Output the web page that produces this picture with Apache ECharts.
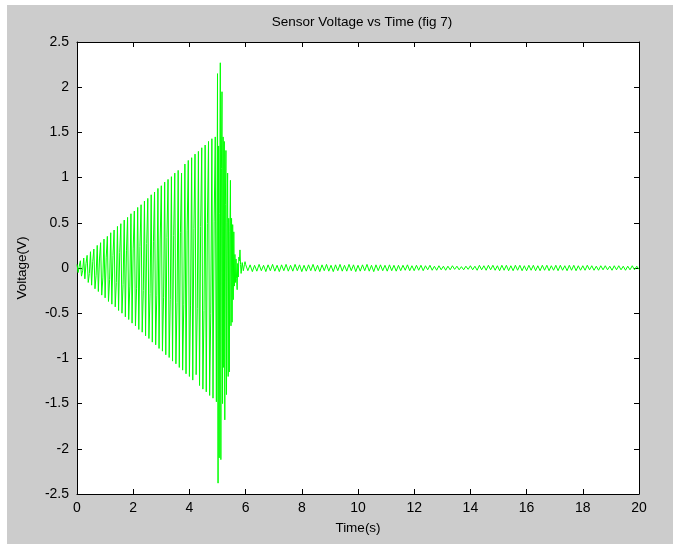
<!DOCTYPE html>
<html>
<head>
<meta charset="utf-8">
<script src="https://cdn.jsdelivr.net/npm/echarts@6/dist/echarts.min.js"></script>
<style>
  html, body { margin: 0; padding: 0; background: #ffffff; }
  #chart { position: absolute; left: 7px; top: 5px; width: 666px; height: 539px; background: #cccccc; }
</style>
</head>
<body>
<div id="chart"></div>
<script>
// ---- Data ----
const titleText = 'Sensor Voltage vs Time (fig 7)';
const xAxisName = 'Time(s)';
const yAxisName = 'Voltage(V)';
const xTicks = [0, 2, 4, 6, 8, 10, 12, 14, 16, 18, 20];
const yTicks = [-2.5, -2, -1.5, -1, -0.5, 0, 0.5, 1, 1.5, 2, 2.5];

// Growing oscillation, 0 s .. 4.96 s (sample spacing 0.04 s)
const rampStart = 0;
const rampStep = 0.04;
const rampVoltage = [
  0.04, -0.05, 0.02, 0.08, -0.09, -0.03, 0.11, -0.12, 0.05, 0.14,
  -0.16, -0.06, 0.18, -0.19, 0.07, 0.21, -0.23, -0.08, 0.25, -0.26,
  0.10, 0.28, -0.30, -0.11, 0.32, -0.33, 0.12, 0.35, -0.37, -0.13,
  0.39, -0.40, 0.14, 0.42, -0.43, -0.16, 0.46, -0.47, 0.17, 0.49,
  -0.50, -0.18, 0.53, -0.54, 0.19, 0.56, -0.57, -0.20, 0.60, -0.61,
  0.22, 0.63, -0.64, -0.23, 0.67, -0.68, 0.24, 0.70, -0.71, -0.25,
  0.74, -0.75, 0.27, 0.77, -0.78, -0.28, 0.81, -0.82, 0.29, 0.84,
  -0.85, -0.30, 0.88, -0.89, 0.31, 0.91, -0.92, -0.33, 0.95, -0.96,
  0.34, 0.98, -0.99, -0.35, 1.01, -1.03, 0.36, 1.05, -1.06, -0.38,
  1.08, -1.10, 0.39, 1.05, -1.13, -0.40, 1.15, -1.17, 0.41, 1.19,
  -1.20, -0.42, 1.22, -1.24, 0.44, 1.26, -1.18, -0.45, 1.29, -1.30,
  0.46, 1.33, -1.34, -0.47, 1.36, -1.37, 0.49, 1.40, -1.41, -0.50,
  1.43, -1.44, 0.51, 1.45, -1.48
];

// Impact burst, 5.00 s .. 5.98 s (sample spacing 0.02 s)
const impactStart = 5.0;
const impactStep = 0.02;
const impactVoltage = [
  2.15, -2.38, 1.35, -2.10, 0.60, 2.27, -2.12, 1.10, 1.95, -1.50,
  1.45, -1.10, 1.40, -1.68, 0.70, 1.30, -1.40, 0.50, 1.05, -1.20,
  0.55, -1.15, 0.40, 0.97, -0.64, 0.55, -0.60, 0.48, -0.35, 0.40,
  -0.20, 0.15, -0.16, 0.10, -0.12, -0.24, 0.05, -0.10, 0.12, 0.08,
  0.20, 0.04, -0.06, -0.08, 0.06, 0.08, -0.03, -0.05, 0.04, 0.07
];

// Residual noise, 6.00 s .. 20.00 s (sample spacing 0.08 s)
const tailStart = 6.0;
const tailStep = 0.08;
const tailVoltage = [
  0.04, -0.03, 0.035, -0.04, 0.03, -0.035, 0.04, -0.03, 0.03, -0.04,
  0.035, -0.03, 0.04, -0.035, 0.03, -0.04, 0.035, -0.03, 0.04, -0.035,
  0.03, -0.035, 0.04, -0.03, 0.035, -0.04, 0.03, -0.035, 0.035, -0.03,
  0.04, -0.035, 0.03, -0.04, 0.035, -0.03, 0.04, -0.035, 0.03, -0.04,
  0.035, -0.03, 0.04, -0.035, 0.03, -0.035, 0.04, -0.03, 0.035, -0.04,
  0.03, -0.035, 0.035, -0.03, 0.04, -0.035, 0.03, -0.04, 0.035, -0.03,
  0.035, -0.03, 0.03, -0.035, 0.035, -0.03, 0.03, -0.035, 0.03, -0.03,
  0.03, -0.025, 0.035, -0.03, 0.025, -0.03, 0.03, -0.025, 0.03, -0.03,
  0.025, -0.02, 0.03, -0.025, 0.02, -0.025, 0.025, -0.02, 0.02, -0.025,
  0.02, -0.02, 0.025, -0.015, 0.02, -0.02, 0.015, -0.02, 0.02, -0.015,
  0.025, -0.02, 0.02, -0.025, 0.03, -0.02, 0.025, -0.025, 0.03, -0.02,
  0.03, -0.025, 0.025, -0.03, 0.03, -0.025, 0.03, -0.03, 0.025, -0.03,
  0.03, -0.025, 0.03, -0.03, 0.025, -0.03, 0.03, -0.025, 0.03, -0.03,
  0.025, -0.03, 0.03, -0.025, 0.03, -0.03, 0.025, -0.025, 0.03, -0.03,
  0.03, -0.025, 0.025, -0.03, 0.03, -0.025, 0.03, -0.03, 0.025, -0.025,
  0.025, -0.025, 0.03, -0.02, 0.025, -0.025, 0.02, -0.025, 0.025, -0.02,
  0.025, -0.02, 0.02, -0.025, 0.025, -0.02, 0.025, -0.02, 0.02, -0.025,
  0.02, -0.02, 0.025, -0.02, 0.02, -0.015
];

// ---- Build series points (time of each sample from its segment's sample grid) ----
function segment(start, step, values) {
  return values.map((v, i) => [+(start + i * step).toFixed(4), v]);
}
const signal = []
  .concat(segment(rampStart, rampStep, rampVoltage))
  .concat(segment(impactStart, impactStep, impactVoltage))
  .concat(segment(tailStart, tailStep, tailVoltage));

// ---- Chart ----
const FONT = '"Liberation Sans", Arial, Helvetica, sans-serif';
const chart = echarts.init(document.getElementById('chart'), null, { renderer: 'canvas' });

const axisLine = { show: true, onZero: false, lineStyle: { color: '#000000', width: 1 } };
const axisTick = { show: true, inside: true, length: 5, lineStyle: { color: '#000000', width: 1 } };
const tickStyle = { color: '#000000', fontSize: 14, fontFamily: FONT };
const nameStyle = { color: '#000000', fontSize: 13.5, fontFamily: FONT };

const xMin = xTicks[0], xMax = xTicks[xTicks.length - 1], xInt = xTicks[1] - xTicks[0];
const yMin = yTicks[0], yMax = yTicks[yTicks.length - 1], yInt = yTicks[1] - yTicks[0];

chart.setOption({
  animation: false,
  backgroundColor: '#cccccc',
  title: {
    text: titleText,
    left: 350,
    top: 5,
    textAlign: 'center',
    textStyle: { color: '#000000', fontSize: 13.5, fontWeight: 'normal', fontFamily: FONT }
  },
  grid: { left: 68, top: 37, width: 564, height: 452, show: true, backgroundColor: '#ffffff', borderWidth: 0 },
  xAxis: [
    {
      type: 'value', position: 'bottom', min: xMin, max: xMax, interval: xInt,
      axisLine: axisLine, axisTick: axisTick,
      axisLabel: Object.assign({ margin: 7 }, tickStyle),
      splitLine: { show: false },
      name: xAxisName, nameLocation: 'middle', nameGap: 27,
      nameTextStyle: nameStyle
    },
    {
      type: 'value', position: 'top', min: xMin, max: xMax, interval: xInt,
      axisLine: axisLine, axisTick: axisTick,
      axisLabel: { show: false }, splitLine: { show: false }
    }
  ],
  yAxis: [
    {
      type: 'value', position: 'left', min: yMin, max: yMax, interval: yInt,
      axisLine: axisLine, axisTick: axisTick,
      axisLabel: Object.assign({ margin: 8 }, tickStyle),
      splitLine: { show: false },
      name: yAxisName, nameLocation: 'middle', nameGap: 48, nameRotate: 90,
      nameTextStyle: nameStyle
    },
    {
      type: 'value', position: 'right', min: yMin, max: yMax, interval: yInt,
      axisLine: axisLine, axisTick: axisTick,
      axisLabel: { show: false }, splitLine: { show: false }
    }
  ],
  series: [
    {
      name: 'Sensor voltage',
      type: 'line',
      xAxisIndex: 0,
      yAxisIndex: 0,
      data: signal,
      showSymbol: false,
      symbol: 'none',
      sampling: null,
      clip: true,
      lineStyle: { color: '#00ff00', width: 1 },
      emphasis: { disabled: true }
    }
  ]
});
</script>
</body>
</html>
